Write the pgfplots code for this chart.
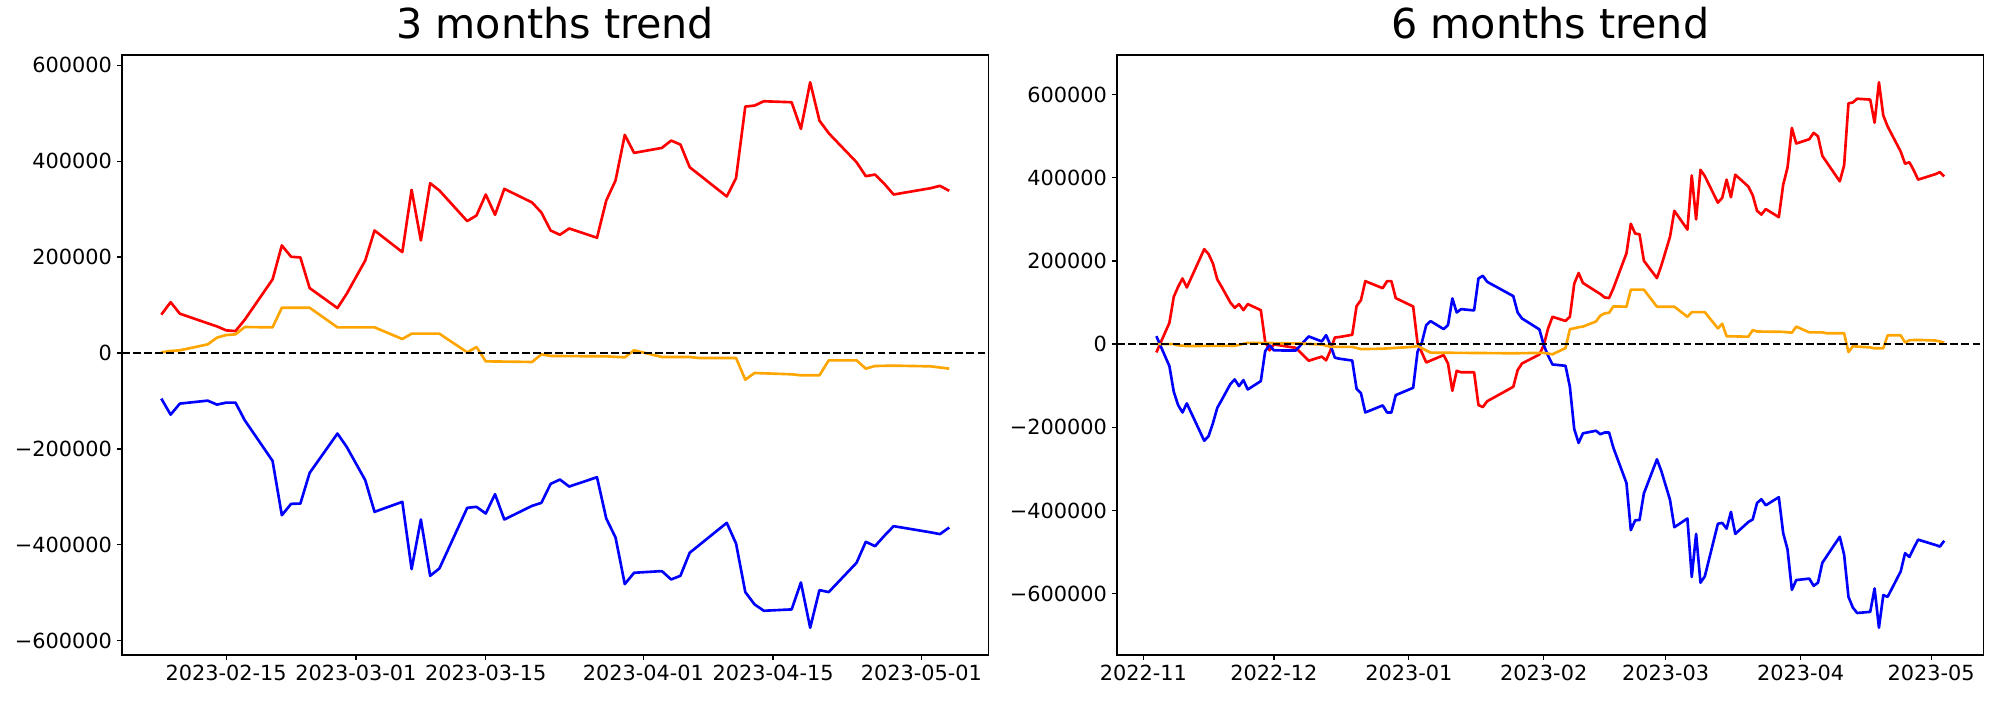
\documentclass[border=0pt]{standalone}
\usepackage{pgfplots}
\pgfplotsset{compat=1.18}
\usepackage{fontspec}
\setmainfont{DejaVu Sans}

\pgfplotstableread{
d v
-7 80000
-6 106000
-5 82000
-2 62000
-1 55500
0 47200
1 45800
2 69400
5 153500
6 224300
7 200700
8 199300
9 135400
12 93700
13 123600
15 193000
16 255500
19 210400
20 340300
21 234700
22 354100
23 338900
26 275000
27 286800
28 330500
29 288200
30 342300
33 313900
34 293000
35 255500
36 246500
37 259700
40 240300
41 318000
42 359700
43 454800
44 417300
47 427700
48 443000
49 434700
50 387500
54 326400
55 364600
56 513900
57 516000
58 525000
61 522900
62 467300
63 564600
64 484700
65 458300
68 397900
69 368700
70 372200
71 352800
72 330500
76 343700
77 348600
78 338200
}\LRed

\pgfplotstableread{
d v
-7 -95100
-6 -128500
-5 -105500
-2 -99300
-1 -107600
0 -103500
1 -103500
2 -140300
5 -225000
6 -338200
7 -314600
8 -313900
9 -250000
12 -168000
13 -195800
15 -265300
16 -331200
19 -310400
20 -450700
21 -347200
22 -464600
23 -449300
26 -322900
27 -320800
28 -334700
29 -294400
30 -347200
33 -318700
34 -312500
35 -272900
36 -263900
37 -278500
40 -259000
41 -345100
42 -384700
43 -481900
44 -458300
47 -454800
48 -472200
49 -464600
50 -416600
54 -354200
55 -397200
56 -498600
57 -524300
58 -537500
61 -534700
62 -478500
63 -572900
64 -494400
65 -498600
68 -437500
69 -393700
70 -402800
71 -381200
72 -361100
76 -374000
77 -377700
78 -363900
}\LBlue

\pgfplotstableread{
d v
-7 1400
-6 4200
-5 5600
-2 18000
-1 32000
0 37500
1 38900
2 54200
5 53500
6 94400
9 94400
12 53500
16 53500
19 29200
20 40300
23 40300
26 1400
27 12500
28 -17400
33 -18700
34 -2800
35 -6200
41 -7000
43 -9000
44 5600
47 -8300
50 -8300
51 -10400
55 -10400
56 -55600
57 -41700
61 -44400
62 -46500
64 -46500
65 -15300
68 -15300
69 -32600
70 -27100
72 -26400
76 -27800
78 -32600
}\LOrange

\pgfplotstableread{
d v
3 -20000
6 51300
7 113800
8 137800
9 157900
10 136200
14 228400
15 216400
16 193900
17 155400
18 137800
20 100100
21 87300
22 96200
23 81700
24 96200
27 81700
28 6000
29 -15000
30 -800
35 -8800
38 -40000
41 -30000
42 -39000
43 -15000
44 16000
45 17000
48 22500
49 91500
50 105800
51 151400
55 134500
56 151400
57 151400
58 110500
62 90500
63 3000
65 -44100
69 -26400
70 -46500
71 -112200
72 -64100
73 -67700
76 -67700
77 -146600
78 -151400
79 -137400
85 -102600
86 -62500
87 -46500
91 -25000
92 -2400
93 37700
94 65700
97 55700
98 65700
99 145000
100 171000
101 147000
104 127000
105 120500
106 112200
107 110800
108 134400
111 218500
112 289300
113 265700
114 264300
115 200400
118 158700
119 188600
121 258000
122 320500
125 275400
126 405300
127 299700
128 419100
129 403900
132 340000
133 351800
134 395500
135 353200
136 407300
139 378900
140 358000
141 320500
142 311500
143 324700
146 305300
147 383000
148 424700
149 519800
150 482300
153 492700
154 508000
155 499700
156 452500
160 391400
161 429600
162 578900
163 581000
164 590000
167 587900
168 532300
169 629600
170 549700
171 523300
174 462900
175 433700
176 437200
177 417800
178 395500
182 408700
183 413600
184 403200
}\RRed

\pgfplotstableread{
d v
3 19200
6 -52900
7 -114600
8 -146600
9 -164300
10 -142600
14 -232400
15 -221200
16 -190000
17 -153100
18 -134600
20 -96200
21 -84900
22 -101000
23 -86500
24 -109000
27 -89000
28 -17000
29 -2400
30 -15000
35 -15500
38 18500
41 6500
42 21600
43 -2400
44 -32500
45 -35000
48 -39500
49 -107500
50 -117800
51 -164300
55 -147400
56 -164300
57 -164300
58 -122600
62 -105000
63 -18400
64 4000
65 45700
66 55300
69 36100
70 45700
71 109800
72 76100
73 84100
76 81000
77 157900
78 164300
79 149800
85 115400
86 76100
87 61700
91 35300
92 -2400
93 -28000
94 -48900
97 -52100
98 -102600
99 -204100
100 -237500
101 -214500
104 -208300
105 -216600
106 -212500
107 -212500
108 -249300
111 -334000
112 -447200
113 -423600
114 -422900
115 -359000
118 -277000
119 -304800
121 -374300
122 -440200
125 -419400
126 -559700
127 -456200
128 -573600
129 -558300
132 -431900
133 -429800
134 -443700
135 -403400
136 -456200
139 -427700
140 -421500
141 -381900
142 -372900
143 -387500
146 -368000
147 -454100
148 -493700
149 -590900
150 -567300
153 -563800
154 -581200
155 -573600
156 -525600
160 -463200
161 -506200
162 -607600
163 -633300
164 -646500
167 -643700
168 -587500
169 -681900
170 -603400
171 -607600
174 -546500
175 -502700
176 -511800
177 -490200
178 -470100
182 -483000
183 -486700
184 -472900
}\RBlue

\pgfplotstableread{
d v
3 0
7 0
8 -3000
10 -4500
21 -4000
24 3000
27 3000
36 1500
41 -1000
43 -6500
48 -6500
50 -12000
55 -11000
62 -6500
63 -4500
66 -20500
85 -22000
92 -21000
94 -24500
97 -9500
98 36000
99 37900
100 40700
101 42100
104 54500
105 68500
106 74000
107 75400
108 90700
111 90000
112 130900
115 130900
118 90000
122 90000
125 65700
126 76800
129 76800
132 37900
133 49000
134 19100
139 17800
140 33700
141 30300
147 29500
149 27500
150 42100
153 28200
156 28200
157 26100
161 26100
162 -19100
163 -5200
167 -7900
168 -10000
170 -10000
171 21200
174 21200
175 3900
176 9400
178 10100
182 8700
184 3900
}\ROrange

\pgfplotsset{
  mpl/.style={
    scale only axis,
    anchor=south west,
    width=624pt, height=432pt,
    every axis/.append style={line width=0.9pt},
    tick align=outside,
    major tick length=3.5pt,
    major tick style={line width=0.9pt, black},
    xtick pos=bottom, ytick pos=left,
    scaled y ticks=false,
    ticklabel style={font=\fontsize{15}{17}\selectfont},
    title style={font=\fontsize{29.7}{34}\selectfont, anchor=base, at={(0.5,1)}, yshift=6pt},
  },
  ser/.style={line width=1.9pt, line join=round},
  zl/.style={black, line width=1.6pt, dash pattern=on 5.6pt off 2.4pt},
}

\begin{document}
\begin{tikzpicture}
\path[use as bounding box] (0,0) rectangle (1440pt,504pt);
\begin{axis}[mpl,
  at={(87.8pt,32.4pt)},
  title={3 months trend},
  xmin=-11.25, xmax=82.25,
  ymin=-629775, ymax=621475,
  xtick={0,14,28,45,59,75},
  xticklabels={2023-02-15,2023-03-01,2023-03-15,2023-04-01,2023-04-15,2023-05-01},
  ytick={-600000,-400000,-200000,0,200000,400000,600000},
  yticklabels={−600000,−400000,−200000,0,200000,400000,600000},
]
\addplot[ser, color={rgb,255:red,255;green,0;blue,0}] table[x=d,y=v] {\LRed};
\addplot[ser, color={rgb,255:red,0;green,0;blue,255}] table[x=d,y=v] {\LBlue};
\addplot[ser, color={rgb,255:red,255;green,165;blue,0}] table[x=d,y=v] {\LOrange};
\addplot[zl] coordinates {(-11.25,0) (82.25,0)};
\end{axis}
\begin{axis}[mpl,
  at={(804.2pt,32.4pt)},
  title={6 months trend},
  xmin=-6.05, xmax=193.05,
  ymin=-747475, ymax=695175,
  xtick={0,30,61,92,120,151,181},
  xticklabels={2022-11,2022-12,2023-01,2023-02,2023-03,2023-04,2023-05},
  ytick={-600000,-400000,-200000,0,200000,400000,600000},
  yticklabels={−600000,−400000,−200000,0,200000,400000,600000},
]
\addplot[ser, color={rgb,255:red,255;green,0;blue,0}] table[x=d,y=v] {\RRed};
\addplot[ser, color={rgb,255:red,0;green,0;blue,255}] table[x=d,y=v] {\RBlue};
\addplot[ser, color={rgb,255:red,255;green,165;blue,0}] table[x=d,y=v] {\ROrange};
\addplot[zl] coordinates {(-6.05,0) (193.05,0)};
\end{axis}
\end{tikzpicture}
\end{document}
